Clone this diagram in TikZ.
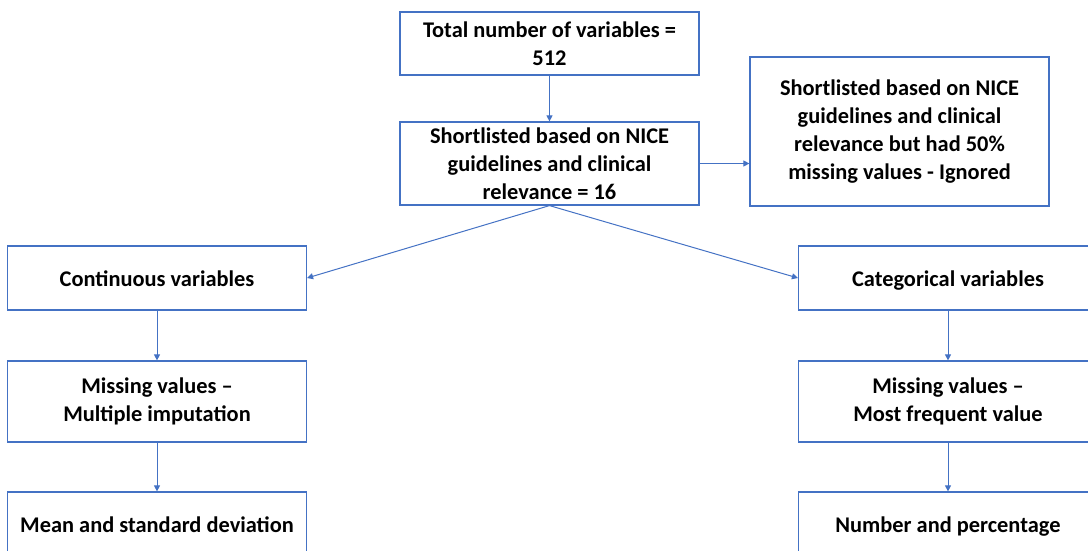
\documentclass[tikz,border=0pt]{standalone}
\usepackage{fontspec}
\setmainfont{Carlito}
\usepackage{xcolor}
\definecolor{offblue}{HTML}{4472C4}
\usepackage{tikz}
\usetikzlibrary{arrows.meta,positioning}

\begin{document}
\begin{tikzpicture}[x=1pt,y=-1pt,
  box/.style={draw=offblue,line width=1.2pt,fill=white,align=center,
    inner sep=2pt,font=\fontsize{22.4}{28}\selectfont\bfseries,minimum width=299pt},
  one/.style={box,minimum height=64pt,text height=20pt,text depth=3pt},
  flow/.style={-{Triangle[length=6pt,width=6pt]},line width=1pt,offblue}]
  \useasboundingbox (0,0) rectangle (1088,551);
  \node[box,minimum height=63pt]  (tot)  at (549.5,43.5)  {Total number of variables =\\512};
  \node[box,minimum height=83pt]  (shl)  at (549.5,163.5) {Shortlisted based on NICE\\guidelines and clinical\\relevance = 16};
  \node[box,minimum height=149pt] (ign)  at (899.5,131.5) {Shortlisted based on NICE\\guidelines and clinical\\relevance but had 50\%\\missing values - Ignored};
  \node[one]                      (cont) at (157,278)     {Continuous variables};
  \node[one]                      (cat)  at (948,278)     {Categorical variables};
  \node[box,minimum height=81pt]  (mcon) at (157,401.5)   {Missing values --\\Multiple imputation};
  \node[box,minimum height=81pt]  (mcat) at (948,401.5)   {Missing values --\\Most frequent value};
  \node[one]                      (mean) at (157,524)     {Mean and standard deviation};
  \node[one]                      (num)  at (948,524)     {Number and percentage};
  \draw[flow] (tot) -- (shl);
  \draw[flow] (shl.east) -- (shl.east -| ign.west);
  \draw[flow] (shl.south) -- (cont.east);
  \draw[flow] (shl.south) -- (cat.west);
  \draw[flow] (cont) -- (mcon);
  \draw[flow] (mcon) -- (mean);
  \draw[flow] (cat) -- (mcat);
  \draw[flow] (mcat) -- (num);
\end{tikzpicture}
\end{document}
